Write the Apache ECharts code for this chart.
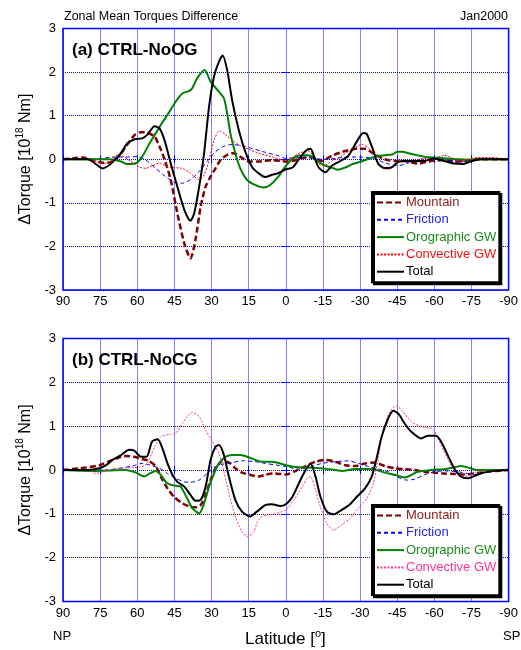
<!DOCTYPE html>
<html>
<head>
<meta charset="utf-8">
<script src="https://cdn.jsdelivr.net/npm/echarts@6/dist/echarts.min.js"></script>
<style>html,body{margin:0;padding:0;background:#fff}#c{width:521px;height:650px}</style>
</head>
<body>
<div id="c"></div>
<script>
// ---- tick labels ----
var latTicks = [90, 75, 60, 45, 30, 15, 0, -15, -30, -45, -60, -75, -90];
var torqueTicks = [-3, -2, -1, 0, 1, 2, 3];
var seriesNames = ['Mountain', 'Friction', 'Orographic GW', 'Convective GW', 'Total'];

// ---- panel (a) CTRL-NoOG : [latitude, dTorque 1e18 Nm] ----
var aMountain = [[90,0],[86,0.02],[82,0.04],[78,-0.02],[74,-0.08],[70,-0.06],[67,0.1],[64.6,0.29],[61,0.56],[58.5,0.62],[56,0.61],[53,0.52],[51,0.29],[49,0],[46.5,-0.47],[43.8,-1.24],[41,-1.93],[38.5,-2.27],[36.5,-1.85],[34.4,-1.09],[32.4,-0.63],[30.4,-0.4],[28.4,-0.21],[26.4,-0.02],[23.7,0.1],[21,0.14],[18.4,0.06],[15,-0.05],[11,-0.05],[5.7,-0.02],[0,-0.05],[-2.7,-0.04],[-8,0.04],[-10.7,0.04],[-14.6,-0.04],[-18.6,0.08],[-24,0.19],[-28.7,0.24],[-32,0.24],[-36,0.11],[-40,0],[-44,-0.04],[-48,-0.04],[-53.3,-0.1],[-58.7,-0.04],[-64,-0.02],[-68,-0.05],[-72,-0.04],[-77.4,0],[-90,0]];
var aFriction = [[90,0],[80,0],[74,0.02],[70,0.05],[65,0.05],[60,0.06],[56.5,-0.02],[52.5,-0.21],[48.5,-0.4],[44.5,-0.54],[41.8,-0.55],[38.5,-0.47],[35,-0.28],[31.8,-0.05],[29,0.14],[25.7,0.28],[21.7,0.34],[17.7,0.31],[13.7,0.25],[8.3,0.16],[3,0.08],[0,0.02],[-5,0.04],[-10,0.03],[-15,0],[-20,0.02],[-25,0.05],[-30,0.05],[-35,0.02],[-40,-0.08],[-45,-0.15],[-50,-0.08],[-55,-0.02],[-60,0],[-70,-0.05],[-80,0],[-90,0]];
var aOrographic = [[90,0],[78,0],[71,0],[66.6,-0.05],[64,-0.11],[60.5,-0.09],[58,0.06],[55,0.37],[52.5,0.6],[50,0.83],[47,1.09],[44.5,1.32],[41.8,1.51],[39,1.57],[37.8,1.63],[35.8,1.86],[32.8,2.05],[30.4,1.78],[27,1.55],[25,1.4],[23.7,1.06],[22.4,0.6],[20.4,0.14],[18.4,-0.21],[15.7,-0.47],[12.4,-0.59],[9,-0.65],[6.3,-0.59],[3,-0.4],[0,-0.15],[-3,0.02],[-5,0.08],[-8,0.09],[-10,0.08],[-12,0],[-14,-0.09],[-16,-0.15],[-19,-0.2],[-21,-0.24],[-24,-0.19],[-27,-0.11],[-30,-0.06],[-33,0],[-36,0.06],[-40,0.09],[-43,0.11],[-45,0.17],[-47,0.17],[-50,0.13],[-53,0.09],[-56,0.06],[-60,0.04],[-65,0.02],[-70,0],[-75,-0.01],[-80,0],[-90,0]];
var aConvective = [[90,0],[80,0],[76.6,-0.05],[74,-0.1],[71,-0.05],[68,0.1],[66,0.08],[62.6,-0.05],[59,-0.18],[56.5,-0.21],[54,-0.15],[51,-0.09],[48.5,-0.15],[45.8,-0.19],[41.8,-0.21],[38.5,-0.32],[35,-0.47],[33,-0.36],[31,-0.02],[29,0.44],[26.8,0.65],[24.4,0.57],[21.7,0.44],[18.4,0.31],[15,0.23],[11,0.14],[5.7,0.06],[0,-0.03],[-2.7,0.04],[-5.3,0.14],[-9.3,0.19],[-11.3,0.04],[-13.3,-0.11],[-15.3,-0.15],[-18.6,-0.04],[-22.6,0.08],[-26.7,0.23],[-30.7,0.34],[-33.4,0.26],[-36,0.04],[-38.7,-0.19],[-41.4,-0.23],[-44,-0.11],[-48,-0.04],[-52,-0.02],[-56,0.02],[-60,0.02],[-64,0.09],[-66.7,0.04],[-69.4,-0.04],[-73.4,0],[-77.4,0.04],[-82.7,0.04],[-90,0]];
var aTotal = [[90,0],[84,0],[80,0],[77,-0.1],[74,-0.21],[71,-0.12],[68.5,0.02],[66.6,0.14],[64,0.37],[61,0.46],[58,0.48],[56,0.56],[53,0.76],[51,0.71],[49,0.44],[46.5,-0.09],[43.8,-0.63],[41,-1.16],[38.5,-1.41],[37,-1.24],[35,-0.63],[33,0.14],[31,1.21],[29,1.9],[27,2.24],[25.5,2.38],[23.7,2.05],[21.7,1.36],[19,0.67],[16.4,0.18],[13.7,-0.17],[11,-0.32],[8.3,-0.41],[5.7,-0.36],[3,-0.32],[0,-0.23],[-2.7,-0.19],[-5.3,0],[-8,0.19],[-10,0.24],[-11.3,0.08],[-13.3,-0.19],[-16,-0.3],[-18.6,-0.15],[-22,-0.04],[-25.3,0.08],[-28.7,0.41],[-31.3,0.6],[-32.7,0.58],[-35.4,0.19],[-37.4,-0.11],[-40,-0.2],[-42.7,-0.19],[-45.4,-0.06],[-48,-0.04],[-52,-0.04],[-56,-0.04],[-60,0.02],[-64,-0.04],[-68,-0.1],[-71.4,-0.11],[-74.7,-0.05],[-78.7,0],[-90,0]];

// ---- panel (b) CTRL-NoCG ----
var bMountain = [[90,0],[83,0.04],[75.3,0.11],[70,0.23],[64.6,0.32],[61.2,0.3],[58,0.25],[55.3,0.21],[52.5,0.08],[50.5,-0.15],[47.8,-0.42],[45.2,-0.61],[41.8,-0.76],[38.5,-0.84],[36.5,-0.85],[34.4,-0.8],[32.4,-0.57],[30.4,-0.23],[28.4,0.04],[25.7,0.19],[23,0.17],[20.4,0.04],[17.7,-0.06],[14.4,-0.11],[11,-0.15],[8.3,-0.11],[5,-0.08],[0,-0.1],[-4,-0.02],[-8,0.09],[-12,0.19],[-16,0.23],[-20,0.19],[-24,0.11],[-28,0.09],[-32,0.15],[-36,0.17],[-40,0.09],[-44,0.04],[-48,0.02],[-52,0],[-56,-0.04],[-60,-0.06],[-64,-0.08],[-68,-0.09],[-72,-0.1],[-76,-0.08],[-81,-0.04],[-90,0]];
var bFriction = [[90,0],[72,0],[67,0.04],[62,0.09],[58,0.15],[54.8,0.11],[51,0.04],[47.8,-0.08],[44.5,-0.19],[41,-0.27],[38.5,-0.28],[35,-0.23],[31.8,-0.08],[29,0.06],[25.7,0.13],[21.7,0.17],[17,0.21],[12.4,0.19],[8.3,0.15],[3.6,0.11],[0,0.08],[-5.3,0.02],[-9.3,0.06],[-14.6,0.15],[-20,0.19],[-25.3,0.21],[-29.4,0.15],[-33.4,0.08],[-37.4,0.02],[-41.4,-0.04],[-44.7,-0.15],[-48.7,-0.23],[-52,-0.21],[-56,-0.11],[-60,-0.04],[-64,-0.02],[-69.4,-0.04],[-73.4,-0.08],[-77.4,-0.11],[-81,-0.04],[-90,0]];
var bOrographic = [[90,0],[78,-0.02],[64.6,0],[60.5,-0.06],[57.2,-0.15],[55.3,-0.09],[52.5,-0.02],[50.5,-0.11],[48.5,-0.27],[46.5,-0.34],[44.5,-0.36],[42.5,-0.38],[39.8,-0.65],[37.8,-0.87],[35,-0.99],[33,-0.76],[31,-0.38],[29,-0.08],[27,0.15],[24.4,0.3],[21.7,0.34],[18.4,0.34],[15,0.29],[12.4,0.23],[9.8,0.19],[5.7,0.19],[2.3,0.15],[0,0.11],[-5.3,0.06],[-10.7,0.05],[-17.3,0.02],[-22.6,-0.02],[-28,0.02],[-34.7,0.02],[-40,-0.06],[-44,-0.11],[-48,-0.17],[-53.3,-0.04],[-58.7,0],[-64,0.02],[-68,0.06],[-70.7,0.09],[-73.4,0.06],[-77.4,0],[-90,0]];
var bConvective = [[90,0],[80,0],[76.6,-0.08],[74,-0.04],[70,0.02],[64.6,0.05],[59,0.06],[56,0.15],[53,0.53],[50.5,0.76],[47,0.81],[44.5,0.84],[41.8,1.06],[39.8,1.22],[37.8,1.31],[35,1.22],[32.4,0.91],[29.7,0.65],[27,0.38],[25,-0.04],[23,-0.53],[20.4,-1.06],[17.7,-1.41],[15.3,-1.52],[13,-1.41],[11,-1.14],[8.3,-1.03],[5,-1.01],[1.6,-0.95],[0,-0.91],[-3.3,-0.68],[-6.7,-0.38],[-8.7,-0.19],[-10,-0.15],[-12,-0.46],[-14,-0.84],[-16.6,-1.22],[-19.3,-1.37],[-22.6,-1.25],[-26,-1.1],[-29.4,-0.87],[-32.7,-0.65],[-35.4,-0.3],[-37.4,0.3],[-39.4,0.91],[-42,1.33],[-44.7,1.46],[-47.4,1.33],[-50.7,1.1],[-54.7,0.99],[-59.4,0.93],[-61.4,0.72],[-64,0.42],[-66.7,0.11],[-69.4,-0.09],[-72,-0.15],[-74.7,-0.11],[-78.7,-0.04],[-84,-0.02],[-90,0]];
var bTotal = [[90,0],[80,0],[75.3,0.04],[72.6,0.11],[70,0.23],[66.6,0.34],[63.2,0.46],[61.2,0.44],[58.5,0.3],[56.3,0.3],[54,0.65],[51.8,0.7],[49.8,0.49],[47.8,0.15],[45.8,-0.11],[43.8,-0.27],[41,-0.38],[38.5,-0.57],[36.5,-0.7],[34.4,-0.68],[32.4,-0.38],[30.4,0.23],[28.4,0.53],[27,0.57],[25,0.34],[23,-0.15],[20.4,-0.68],[17.7,-0.95],[14.4,-1.06],[11.7,-0.95],[8.3,-0.8],[5.7,-0.78],[2.3,-0.82],[0,-0.78],[-2.7,-0.61],[-5.3,-0.3],[-8,0],[-10,0.14],[-12,-0.15],[-14,-0.61],[-16.6,-0.95],[-19.3,-1.01],[-22.6,-0.91],[-26,-0.78],[-28.7,-0.61],[-32,-0.42],[-34.7,-0.15],[-36.7,0.27],[-38.7,0.76],[-41.4,1.18],[-43.4,1.35],[-45.4,1.29],[-48,1.06],[-50.7,0.87],[-54.7,0.72],[-57.4,0.78],[-60.7,0.78],[-62.7,0.65],[-65.4,0.34],[-68,0.04],[-70.7,-0.15],[-73.4,-0.19],[-76,-0.14],[-80,-0.06],[-84,-0.02],[-90,0]];

var FONT = '"Liberation Sans", Arial, sans-serif';
var BLUE = '#0000ff';

var styles = {
  'Mountain':      {color:'#800000', width:2.5, type:[6,3], text:'#8b1a1a'},
  'Friction':      {color:'#0000ff', width:1,   type:[4,3], text:'#2222ee'},
  'Orographic GW': {color:'#008000', width:2,   type:'solid', text:'#1a8a1a'},
  'Convective GW': {color:'#ff0000', width:1,   type:[2,1.5], text:'#ee1111'},
  'Total':         {color:'#000000', width:2,   type:'solid', text:'#000000'}
};
var pinkConv = '#ff3399';

function mkX(grid, pos, labels) {
  return {
    type:'value', gridIndex:grid, position:pos, inverse:true, min:-90, max:90, interval:15,
    axisLine:{show:false},
    axisTick:{show:true, inside:true, length:4, lineStyle:{color:BLUE, width:1}},
    axisLabel:{show:labels, color:'#000', fontSize:13, fontFamily:FONT, margin:5,
      formatter:function(v){return String(v);}},
    splitLine:{show:pos==='bottom', lineStyle:{color:BLUE, type:[1,1], width:1}}
  };
}
function mkY(grid, pos, labels, name) {
  var o = {
    type:'value', gridIndex:grid, position:pos, min:-3, max:3, interval:1,
    axisLine:{show:false},
    axisTick:{show:true, inside:true, length:4, lineStyle:{color:BLUE, width:1}},
    axisLabel:{show:labels, color:'#000', fontSize:13, fontFamily:FONT, margin:7},
    splitLine:{show:pos==='left', lineStyle:{color:BLUE, type:[1,1], width:1}}
  };
  if (name) {
    o.name = '{a|\u0394Torque [10}{s|18}{a| Nm]}';
    o.nameLocation = 'middle';
    o.nameGap = 27;
    o.nameRotate = 90;
    o.nameTextStyle = {fontFamily:FONT, color:'#000', rich:{
      a:{fontSize:16, fontFamily:FONT, color:'#000', lineHeight:20},
      s:{fontSize:10, fontFamily:FONT, color:'#000', lineHeight:12, verticalAlign:'top'}
    }};
  }
  return o;
}

function mkSeries(name, data, xi, yi, suffix, colorOverride) {
  var s = styles[name];
  var c = colorOverride || s.color;
  return {
    name: name + suffix, type:'line', xAxisIndex:xi, yAxisIndex:yi, data:data,
    symbol:'none', smooth:0.25, animation:false, silent:true,
    z: name === 'Total' ? 5 : 3,
    itemStyle:{color:c},
    lineStyle:{color:c, width:s.width, type:s.type}
  };
}

function mkLegend(top, suffix, convColor) {
  return {
    orient:'vertical', left:372, top:top, itemWidth:27, itemHeight:14, itemGap:4.3,
    padding:[4,3,4,4], backgroundColor:'#fff', borderColor:'#000', borderWidth:2,
    shadowColor:'#000', shadowOffsetX:2, shadowOffsetY:2, shadowBlur:0,
    selectedMode:false,
    itemStyle:{opacity:0, borderWidth:0},
    formatter:function(n){return n.replace(suffix,'');},
    textStyle:{fontSize:13, fontFamily:FONT, padding:[0,0,0,-3]},
    data: seriesNames.map(function(n){
      var tc = (n === 'Convective GW' && convColor) ? convColor : styles[n].text;
      return {name:n + suffix, textStyle:{color:tc}};
    })
  };
}

var option = {
  backgroundColor:'#fff',
  animation:false,
  textStyle:{fontFamily:FONT},
  title:[
    {text:'Zonal Mean Torques Difference', left:64, top:10, padding:0,
      textStyle:{fontSize:12.5, fontWeight:'normal', color:'#000', fontFamily:FONT}},
    {text:'Jan2000', right:13, top:10, padding:0,
      textStyle:{fontSize:12.5, fontWeight:'normal', color:'#000', fontFamily:FONT}},
    {text:'(a) CTRL-NoOG', left:72, top:42, padding:0,
      textStyle:{fontSize:17, fontWeight:'bold', color:'#000', fontFamily:FONT}},
    {text:'(b) CTRL-NoCG', left:72, top:352, padding:0,
      textStyle:{fontSize:17, fontWeight:'bold', color:'#000', fontFamily:FONT}}
  ],
  grid:[
    {left:63, top:28.5, width:447.5, height:261.5, show:true, borderColor:BLUE, borderWidth:1.5, backgroundColor:'transparent'},
    {left:63, top:338.5, width:447.5, height:263, show:true, borderColor:BLUE, borderWidth:1.5, backgroundColor:'transparent'}
  ],
  xAxis:[ mkX(0,'bottom',true), mkX(0,'top',false), mkX(1,'bottom',true), mkX(1,'top',false) ],
  yAxis:[ mkY(0,'left',true,true), mkY(0,'right',false,false), mkY(1,'left',true,true), mkY(1,'right',false,false) ],
  legend:[ mkLegend(192,'',null), mkLegend(505,' (b)',pinkConv) ],
  graphic:[
    {type:'text', left:53, top:630, style:{text:'NP', font:'13px '+FONT, fill:'#000'}},
    {type:'text', left:503, top:630, style:{text:'SP', font:'13px '+FONT, fill:'#000'}},
    {type:'text', left:245, top:628, style:{
      text:'{a|Latitude [}{s|o}{a|]}', fill:'#000',
      rich:{a:{fontSize:17, fontFamily:FONT, lineHeight:22, fill:'#000'},
            s:{fontSize:11, fontFamily:FONT, lineHeight:12, verticalAlign:'top', fill:'#000'}}
    }}
  ],
  series:[
    mkSeries('Mountain', aMountain, 0, 0, ''),
    mkSeries('Friction', aFriction, 0, 0, ''),
    mkSeries('Orographic GW', aOrographic, 0, 0, ''),
    mkSeries('Convective GW', aConvective, 0, 0, ''),
    mkSeries('Total', aTotal, 0, 0, ''),
    mkSeries('Mountain', bMountain, 2, 2, ' (b)'),
    mkSeries('Friction', bFriction, 2, 2, ' (b)'),
    mkSeries('Orographic GW', bOrographic, 2, 2, ' (b)'),
    mkSeries('Convective GW', bConvective, 2, 2, ' (b)', pinkConv),
    mkSeries('Total', bTotal, 2, 2, ' (b)')
  ]
};

var chart = echarts.init(document.getElementById('c'), null, {renderer:'canvas'});
chart.setOption(option);
</script>
</body>
</html>
